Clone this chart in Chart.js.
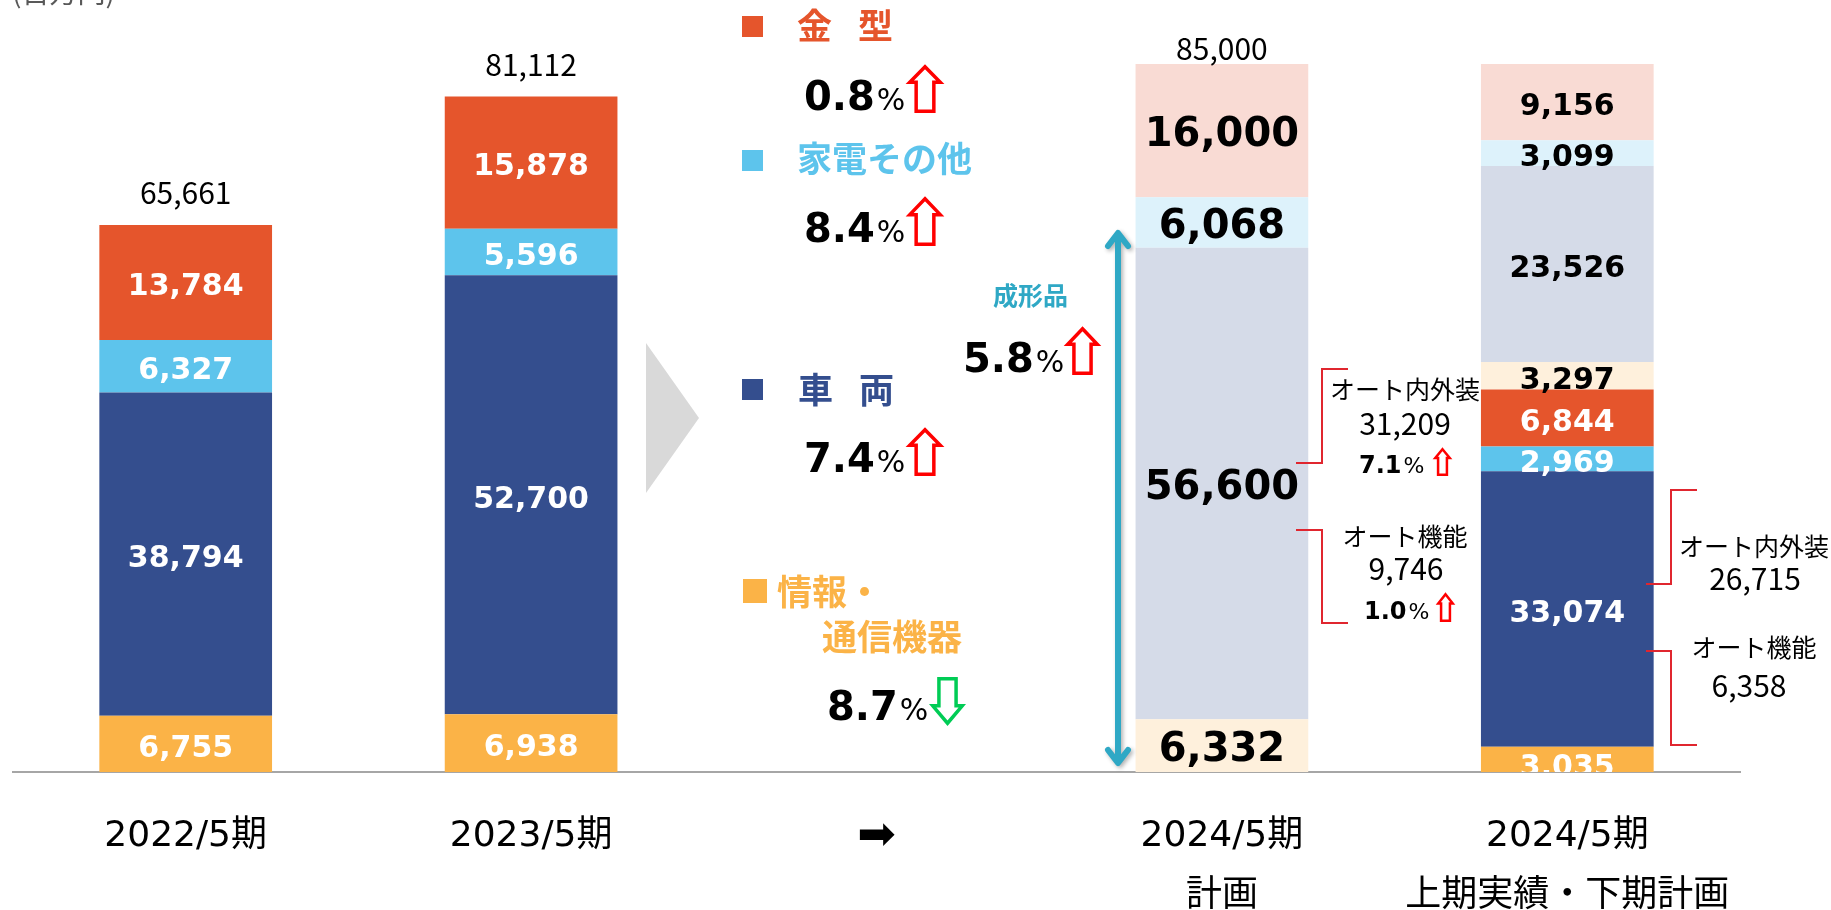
<!DOCTYPE html>
<html lang="ja">
<head>
<meta charset="utf-8">
<title>セグメント別売上高</title>
<script src="https://cdn.jsdelivr.net/npm/chart.js@4.4.1/dist/chart.umd.min.js"></script>
<style>
  html, body { margin: 0; padding: 0; background: #fff; }
  #wrap { position: relative; width: 1831px; height: 910px; }
</style>
</head>
<body>
<div id="wrap"><canvas id="salesChart"></canvas></div>
<script>
(function () {
    'use strict';

    // Categories (x axis)
    const CATEGORIES = ['2022/5期', '2023/5期', '➡', ['2024/5期', '計画'], ['2024/5期', '上期実績・下期計画']];

    // Segment values (百万円), bottom to top of each stack
    const INFO_ACTUAL      = [6755, 6938, null, null, 3035];
    const VEHICLE_ACTUAL   = [38794, 52700, null, null, 33074];
    const APPLIANCE_ACTUAL = [6327, 5596, null, null, 2969];
    const MOLD_ACTUAL      = [13784, 15878, null, null, 6844];
    const INFO_PLAN        = [null, null, null, 6332, 3297];
    const VEHICLE_PLAN     = [null, null, null, 56600, 23526];
    const APPLIANCE_PLAN   = [null, null, null, 6068, 3099];
    const MOLD_PLAN        = [null, null, null, 16000, 9156];

    // Totals shown above bars
    const TOTALS = [65661, 81112, null, 85000, null];
    const Y_MAX = 85000;

    // Growth rates for the 2024/5 plan
    const RATE_MOLD = '0.8';
    const RATE_APPLIANCE = '8.4';
    const RATE_VEHICLE = '7.4';
    const RATE_INFO = '8.7';
    const RATE_MOLDED = '5.8';
    const RATE_AUTO_INTERIOR = '7.1';
    const RATE_AUTO_FUNCTION = '1.0';

    // オート breakdown of 車両: [内外装, 機能]
    const AUTO_PLAN = [31209, 9746];
    const AUTO_H1 = [26715, 6358];

    const COLORS = {
        mold: '#E5552C',
        appliance: '#5DC4EC',
        vehicle: '#344E8E',
        info: '#FBB347',
        moldPlan: '#F9DBD4',
        appliancePlan: '#DDF2FB',
        vehiclePlan: '#D5DBE8',
        infoPlan: '#FEF0DC',
        bracket: '#E0262F',
        teal: '#2FA8C5'
    };

    const JP = "'Noto Sans CJK JP', sans-serif";
    const NUM = "'DejaVu Sans', 'Noto Sans CJK JP', sans-serif";

    const fmt = v => v.toLocaleString('en-US');

    // value labels inside each segment
    const segmentLabels = {
        id: 'segmentLabels',
        afterDatasetsDraw(chart) {
            const ctx = chart.ctx;
            const area = chart.chartArea;
            ctx.save();
            ctx.beginPath();
            ctx.rect(area.left, area.top, area.right - area.left, area.bottom - area.top);
            ctx.clip();
            ctx.textAlign = 'center';
            ctx.textBaseline = 'middle';
            chart.data.datasets.forEach((ds, di) => {
                const meta = chart.getDatasetMeta(di);
                meta.data.forEach((bar, i) => {
                    const v = ds.data[i];
                    if (v == null) return;
                    const size = i === 3 ? 40 : 30;
                    const shift = 5 + ((ds.labelShift && ds.labelShift[i]) || 0);
                    ctx.font = `bold ${size}px 'DejaVu Sans'`;
                    ctx.fillStyle = ds.labelColor;
                    ctx.fillText(fmt(v), bar.x, (bar.y + bar.base) / 2 + shift);
                });
            });
            ctx.restore();

            // totals above bars
            const gaps = [32, 32, 0, 15, 0];
            ctx.save();
            ctx.font = `30px ${JP}`;
            ctx.fillStyle = '#000';
            ctx.textAlign = 'center';
            ctx.textBaseline = 'middle';
            TOTALS.forEach((t, i) => {
                if (t == null) return;
                const x = chart.scales.x.getPixelForValue(i);
                const y = chart.scales.y.getPixelForValue(t);
                ctx.fillText(fmt(t), x, y - gaps[i]);
            });
            ctx.restore();
        }
    };

    function outlineArrow(ctx, x, y, w, h, dir, color, lw) {
        const cx = x + w / 2;
        const head = h * (dir === 'up' ? 0.36 : 0.4);
        const sw = w * 0.52;
        ctx.save();
        ctx.lineWidth = lw;
        ctx.strokeStyle = color;
        ctx.fillStyle = '#fff';
        ctx.lineJoin = 'miter';
        const l = x + lw / 2, r = x + w - lw / 2, t = y + lw / 2, b = y + h - lw / 2;
        ctx.beginPath();
        if (dir === 'up') {
            ctx.moveTo(cx, t);
            ctx.lineTo(r, y + head);
            ctx.lineTo(cx + sw / 2, y + head);
            ctx.lineTo(cx + sw / 2, b);
            ctx.lineTo(cx - sw / 2, b);
            ctx.lineTo(cx - sw / 2, y + head);
            ctx.lineTo(l, y + head);
        } else {
            ctx.moveTo(cx, b);
            ctx.lineTo(r, y + h - head);
            ctx.lineTo(cx + sw / 2, y + h - head);
            ctx.lineTo(cx + sw / 2, t);
            ctx.lineTo(cx - sw / 2, t);
            ctx.lineTo(cx - sw / 2, y + h - head);
            ctx.lineTo(l, y + h - head);
        }
        ctx.closePath();
        ctx.fill();
        ctx.stroke();
        ctx.restore();
    }

    function rate(ctx, value, x, cy, size, pctSize) {
        const base = cy + size * 0.365;
        ctx.save();
        ctx.fillStyle = '#000';
        ctx.textAlign = 'left';
        ctx.textBaseline = 'alphabetic';
        ctx.font = `bold ${size}px 'DejaVu Sans'`;
        ctx.fillText(value, x, base);
        const w = ctx.measureText(value).width;
        ctx.font = `${pctSize}px 'DejaVu Sans'`;
        ctx.fillText('%', x + w + 2, base);
        ctx.restore();
    }

    function text(ctx, str, x, cy, font, color, align) {
        ctx.save();
        ctx.font = font;
        ctx.fillStyle = color;
        ctx.textAlign = align || 'left';
        ctx.textBaseline = 'middle';
        ctx.fillText(str, x, cy);
        ctx.restore();
    }

    function bracket(ctx, pts) {
        ctx.save();
        ctx.strokeStyle = COLORS.bracket;
        ctx.lineWidth = 2;
        ctx.beginPath();
        ctx.moveTo(pts[0][0], pts[0][1]);
        for (let k = 1; k < pts.length; k++) ctx.lineTo(pts[k][0], pts[k][1]);
        ctx.stroke();
        ctx.restore();
    }

    // legend-like commentary, arrows and brackets
    const annotations = {
        id: 'annotations',
        afterDraw(chart) {
            const ctx = chart.ctx;

            text(ctx, '(百万円)', 12, -8, `28px ${JP}`, '#595959');

            // gray chevron
            ctx.save();
            ctx.fillStyle = '#D9D9D9';
            ctx.beginPath();
            ctx.moveTo(646, 343);
            ctx.lineTo(699, 418);
            ctx.lineTo(646, 493);
            ctx.closePath();
            ctx.fill();
            ctx.restore();

            // segment headings
            const head = `bold 35px ${JP}`;
            ctx.fillStyle = COLORS.mold;
            ctx.fillRect(742, 16, 21, 21);
            text(ctx, '金', 797, 26, head, COLORS.mold);
            text(ctx, '型', 858, 26, head, COLORS.mold);
            rate(ctx, RATE_MOLD, 804, 95, 40, 30);
            outlineArrow(ctx, 908, 65, 34, 48, 'up', '#FF0000', 3.5);

            ctx.fillStyle = COLORS.appliance;
            ctx.fillRect(742, 150, 21, 21);
            text(ctx, '家電その他', 797, 159, head, COLORS.appliance);
            rate(ctx, RATE_APPLIANCE, 804, 227, 40, 30);
            outlineArrow(ctx, 908, 197, 34, 49, 'up', '#FF0000', 3.5);

            ctx.fillStyle = COLORS.vehicle;
            ctx.fillRect(742, 379, 21, 21);
            text(ctx, '車', 798, 390, head, COLORS.vehicle);
            text(ctx, '両', 859, 390, head, COLORS.vehicle);
            rate(ctx, RATE_VEHICLE, 804, 457, 40, 30);
            outlineArrow(ctx, 908, 428, 34, 48, 'up', '#FF0000', 3.5);

            ctx.fillStyle = COLORS.info;
            ctx.fillRect(743, 579, 24, 24);
            text(ctx, '情報・', 777, 592, head, COLORS.info);
            text(ctx, '通信機器', 822, 637, head, COLORS.info);
            rate(ctx, RATE_INFO, 827, 705, 40, 30);
            outlineArrow(ctx, 931, 677, 33, 48, 'down', '#00CC55', 3.5);

            // 成形品 (all plan segments except 金型)
            text(ctx, '成形品', 993, 295, `bold 25px ${JP}`, COLORS.teal);
            rate(ctx, RATE_MOLDED, 963, 357, 40, 30);
            outlineArrow(ctx, 1066, 327, 33, 48, 'up', '#FF0000', 3.5);

            ctx.save();
            ctx.strokeStyle = COLORS.teal;
            ctx.lineWidth = 6;
            ctx.lineCap = 'round';
            ctx.lineJoin = 'round';
            ctx.shadowColor = 'rgba(0,0,0,0.3)';
            ctx.shadowBlur = 4;
            ctx.shadowOffsetX = 2;
            ctx.shadowOffsetY = 2;
            ctx.beginPath();
            ctx.moveTo(1118, 234);
            ctx.lineTo(1118, 762);
            ctx.moveTo(1108, 246);
            ctx.lineTo(1118, 233);
            ctx.lineTo(1128, 246);
            ctx.moveTo(1108, 750);
            ctx.lineTo(1118, 763);
            ctx.lineTo(1128, 750);
            ctx.stroke();
            ctx.restore();

            // オート breakdown, plan
            bracket(ctx, [[1348, 369], [1322, 369], [1322, 463], [1296, 463]]);
            bracket(ctx, [[1296, 530], [1322, 530], [1322, 623], [1348, 623]]);
            text(ctx, 'オート内外装', 1405, 389, `25px ${JP}`, '#000', 'center');
            text(ctx, fmt(AUTO_PLAN[0]), 1405, 424, `30px ${JP}`, '#000', 'center');
            rate(ctx, RATE_AUTO_INTERIOR, 1359, 464, 24, 22);
            outlineArrow(ctx, 1434, 448, 17, 28, 'up', '#FF0000', 2.5);
            text(ctx, 'オート機能', 1405, 536, `25px ${JP}`, '#000', 'center');
            text(ctx, fmt(AUTO_PLAN[1]), 1406, 569, `30px ${JP}`, '#000', 'center');
            rate(ctx, RATE_AUTO_FUNCTION, 1364, 610, 24, 22);
            outlineArrow(ctx, 1437, 593, 17, 29, 'up', '#FF0000', 2.5);

            // オート breakdown, first half actual
            bracket(ctx, [[1697, 490], [1671, 490], [1671, 584], [1646, 584]]);
            bracket(ctx, [[1646, 651], [1671, 651], [1671, 745], [1697, 745]]);
            text(ctx, 'オート内外装', 1754, 546, `25px ${JP}`, '#000', 'center');
            text(ctx, fmt(AUTO_H1[0]), 1755, 579, `30px ${JP}`, '#000', 'center');
            text(ctx, 'オート機能', 1754, 647, `25px ${JP}`, '#000', 'center');
            text(ctx, fmt(AUTO_H1[1]), 1749, 686, `30px ${JP}`, '#000', 'center');
        }
    };

    const datasets = [
        { label: '情報・通信機器', data: INFO_ACTUAL, backgroundColor: COLORS.info, labelColor: '#fff', labelShift: [0, 0, 0, 0, 4] },
        { label: '車両', data: VEHICLE_ACTUAL, backgroundColor: COLORS.vehicle, labelColor: '#fff' },
        { label: '家電その他', data: APPLIANCE_ACTUAL, backgroundColor: COLORS.appliance, labelColor: '#fff' },
        { label: '金型', data: MOLD_ACTUAL, backgroundColor: COLORS.mold, labelColor: '#fff' },
        { label: '情報・通信機器 計画', data: INFO_PLAN, backgroundColor: COLORS.infoPlan, labelColor: '#000' },
        { label: '車両 計画', data: VEHICLE_PLAN, backgroundColor: COLORS.vehiclePlan, labelColor: '#000' },
        { label: '家電その他 計画', data: APPLIANCE_PLAN, backgroundColor: COLORS.appliancePlan, labelColor: '#000' },
        { label: '金型 計画', data: MOLD_PLAN, backgroundColor: COLORS.moldPlan, labelColor: '#000' }
    ];

    new Chart(document.getElementById('salesChart'), {
        type: 'bar',
        data: { labels: CATEGORIES, datasets: datasets.map(d => Object.assign({
            borderWidth: 0,
            barPercentage: 0.5,
            categoryPercentage: 1
        }, d)) },
        options: {
            responsive: true,
            maintainAspectRatio: false,
            animation: false,
            layout: { padding: { top: 64, left: 13, right: 91, bottom: 0 } },
            scales: {
                x: {
                    stacked: true,
                    grid: { display: false, drawTicks: false },
                    border: { display: true, color: '#A6A6A6', width: 2 },
                    ticks: {
                        color: '#000',
                        padding: 35,
                        maxRotation: 0,
                        autoSkip: false,
                        // the arrow between periods is drawn larger
                        font: c => c.index === 2
                            ? { family: NUM, size: 46, lineHeight: 1.304 }
                            : { family: NUM, size: 36, lineHeight: 1.667 }
                    },
                    afterFit(scale) { scale.height = 138; }
                },
                y: {
                    stacked: true,
                    display: false,
                    min: 0,
                    max: Y_MAX
                }
            },
            plugins: {
                legend: { display: false },
                tooltip: { enabled: false }
            }
        },
        plugins: [segmentLabels, annotations]
    });
})();
</script>
</body>
</html>
